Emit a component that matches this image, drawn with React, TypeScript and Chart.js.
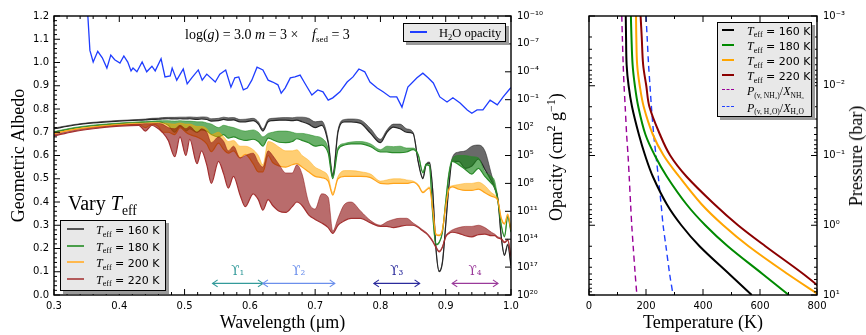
import React, { useEffect, useRef } from 'react';
import { Chart, registerables } from 'chart.js';

Chart.register(...registerables);

const SERIF = '"Liberation Serif", "DejaVu Serif", serif';
const SANS = '"DejaVu Sans", "Liberation Sans", sans-serif';
const UPS_FONT = '"DejaVu Serif", serif';

// ---------------- Left panel: geometric albedo spectra ----------------
const WAVELENGTH = [
  0.30, 0.33, 0.36, 0.40, 0.43, 0.44,
  0.45, 0.46, 0.466, 0.475, 0.485, 0.493, 0.502, 0.508, 0.519, 0.526, 0.534, 0.541, 0.552, 0.56, 0.567, 0.575, 0.585, 0.593, 0.605, 0.613, 0.62,
  0.628, 0.635, 0.645, 0.655, 0.665, 0.672, 0.68, 0.69, 0.70, 0.71, 0.72, 0.727, 0.735, 0.745, 0.755, 0.77, 0.785, 0.80,
  0.81, 0.82, 0.83, 0.84, 0.85, 0.858, 0.865, 0.87, 0.875, 0.88, 0.885, 0.89, 0.895, 0.90, 0.905, 0.91, 0.92, 0.93, 0.94, 0.95, 0.96, 0.97, 0.975, 0.98, 0.985, 0.99, 0.995, 1.0,
];

const BLACK_LOW = [
  0.715, 0.730, 0.740, 0.748, 0.752, 0.753,
  0.755, 0.756, 0.757, 0.758, 0.757, 0.758, 0.757, 0.758, 0.755, 0.757, 0.755, 0.748, 0.750, 0.755, 0.752, 0.753, 0.745, 0.745, 0.750, 0.735, 0.705,
  0.745, 0.750, 0.752, 0.752, 0.750, 0.752, 0.745, 0.735, 0.720, 0.730, 0.653, 0.510, 0.700, 0.745, 0.745, 0.738, 0.695, 0.655,
  0.700, 0.722, 0.715, 0.700, 0.695, 0.570, 0.500, 0.560, 0.567, 0.450, 0.200, 0.100, 0.140, 0.300, 0.470, 0.575, 0.575, 0.545, 0.555, 0.585, 0.540, 0.490, 0.460, 0.410, 0.250, 0.170, 0.215, 0.125,
];
const BLACK_HIGH = [
  0.718, 0.733, 0.743, 0.751, 0.755, 0.757,
  0.760, 0.761, 0.763, 0.764, 0.764, 0.765, 0.765, 0.766, 0.764, 0.766, 0.765, 0.758, 0.760, 0.765, 0.762, 0.763, 0.755, 0.756, 0.760, 0.745, 0.715,
  0.755, 0.760, 0.762, 0.763, 0.762, 0.765, 0.765, 0.760, 0.745, 0.748, 0.665, 0.520, 0.710, 0.755, 0.757, 0.752, 0.715, 0.670,
  0.710, 0.735, 0.735, 0.715, 0.700, 0.575, 0.505, 0.565, 0.572, 0.455, 0.205, 0.105, 0.145, 0.305, 0.480, 0.590, 0.615, 0.620, 0.640, 0.645, 0.620, 0.520, 0.470, 0.415, 0.255, 0.175, 0.220, 0.130,
];
const GREEN_LOW = [
  0.700, 0.717, 0.728, 0.737, 0.742, 0.743,
  0.745, 0.745, 0.742, 0.730, 0.700, 0.725, 0.705, 0.715, 0.700, 0.710, 0.705, 0.690, 0.680, 0.690, 0.675, 0.680, 0.670, 0.665, 0.670, 0.660, 0.640,
  0.675, 0.668, 0.657, 0.655, 0.660, 0.672, 0.665, 0.655, 0.640, 0.645, 0.610, 0.500, 0.625, 0.645, 0.650, 0.650, 0.638, 0.615,
  0.615, 0.612, 0.612, 0.615, 0.625, 0.600, 0.525, 0.560, 0.555, 0.350, 0.215, 0.225, 0.270, 0.400, 0.520, 0.575, 0.560, 0.540, 0.520, 0.545, 0.510, 0.480, 0.460, 0.400, 0.300, 0.250, 0.335, 0.270,
];
const GREEN_HIGH = [
  0.703, 0.720, 0.731, 0.740, 0.745, 0.746,
  0.748, 0.750, 0.750, 0.750, 0.748, 0.750, 0.748, 0.748, 0.745, 0.745, 0.740, 0.735, 0.720, 0.730, 0.725, 0.720, 0.710, 0.705, 0.710, 0.700, 0.680,
  0.695, 0.700, 0.705, 0.705, 0.700, 0.695, 0.695, 0.690, 0.683, 0.675, 0.630, 0.510, 0.635, 0.652, 0.658, 0.660, 0.650, 0.625,
  0.640, 0.638, 0.640, 0.632, 0.632, 0.605, 0.530, 0.565, 0.560, 0.355, 0.220, 0.230, 0.275, 0.405, 0.530, 0.585, 0.600, 0.600, 0.595, 0.590, 0.530, 0.510, 0.490, 0.410, 0.305, 0.255, 0.340, 0.275,
];
const ORANGE_LOW = [
  0.693, 0.711, 0.722, 0.732, 0.735, 0.720,
  0.735, 0.725, 0.700, 0.700, 0.690, 0.720, 0.700, 0.690, 0.680, 0.670, 0.650, 0.617, 0.653, 0.625, 0.610, 0.620, 0.590, 0.605, 0.565, 0.530, 0.530,
  0.600, 0.570, 0.555, 0.550, 0.560, 0.565, 0.550, 0.530, 0.510, 0.505, 0.490, 0.430, 0.500, 0.510, 0.510, 0.510, 0.505, 0.480,
  0.478, 0.480, 0.480, 0.480, 0.485, 0.470, 0.440, 0.450, 0.460, 0.370, 0.260, 0.255, 0.280, 0.380, 0.455, 0.465, 0.455, 0.450, 0.450, 0.455, 0.440, 0.425, 0.420, 0.405, 0.330, 0.305, 0.345, 0.280,
];
const ORANGE_HIGH = [
  0.697, 0.714, 0.725, 0.735, 0.740, 0.740,
  0.742, 0.742, 0.740, 0.738, 0.735, 0.740, 0.735, 0.735, 0.725, 0.725, 0.715, 0.690, 0.700, 0.680, 0.660, 0.665, 0.640, 0.640, 0.625, 0.600, 0.560,
  0.660, 0.655, 0.635, 0.620, 0.620, 0.625, 0.600, 0.580, 0.550, 0.535, 0.510, 0.440, 0.510, 0.535, 0.535, 0.530, 0.520, 0.490,
  0.495, 0.500, 0.500, 0.495, 0.490, 0.475, 0.445, 0.455, 0.465, 0.375, 0.265, 0.260, 0.285, 0.385, 0.460, 0.470, 0.475, 0.480, 0.480, 0.485, 0.470, 0.440, 0.430, 0.410, 0.335, 0.310, 0.350, 0.285,
];
const RED_LOW = [
  0.684, 0.703, 0.715, 0.726, 0.730, 0.705,
  0.730, 0.715, 0.700, 0.665, 0.595, 0.680, 0.600, 0.670, 0.565, 0.620, 0.560, 0.480, 0.575, 0.520, 0.460, 0.510, 0.430, 0.380, 0.435, 0.410, 0.365,
  0.410, 0.385, 0.360, 0.355, 0.380, 0.400, 0.385, 0.345, 0.325, 0.310, 0.290, 0.265, 0.300, 0.320, 0.330, 0.330, 0.310, 0.295,
  0.295, 0.290, 0.295, 0.300, 0.300, 0.290, 0.275, 0.265, 0.250, 0.230, 0.205, 0.185, 0.205, 0.250, 0.265, 0.270, 0.265, 0.255, 0.250, 0.260, 0.262, 0.255, 0.255, 0.245, 0.240, 0.225, 0.235, 0.165,
];
const RED_HIGH = [
  0.689, 0.707, 0.719, 0.730, 0.735, 0.737,
  0.737, 0.738, 0.735, 0.720, 0.715, 0.730, 0.715, 0.725, 0.700, 0.715, 0.700, 0.655, 0.680, 0.660, 0.620, 0.640, 0.590, 0.600, 0.610, 0.570, 0.550,
  0.620, 0.600, 0.560, 0.525, 0.525, 0.560, 0.520, 0.400, 0.370, 0.435, 0.420, 0.275, 0.330, 0.390, 0.400, 0.360, 0.320, 0.300,
  0.315, 0.325, 0.330, 0.330, 0.310, 0.295, 0.280, 0.270, 0.255, 0.235, 0.210, 0.190, 0.210, 0.255, 0.270, 0.280, 0.290, 0.295, 0.295, 0.300, 0.290, 0.270, 0.262, 0.250, 0.245, 0.230, 0.240, 0.170,
];

// H2O opacity (log10 of cm^2 g^-1), right axis of left panel
const H2O_WL = [
  0.351, 0.355, 0.360, 0.367, 0.374, 0.381, 0.387, 0.393, 0.401, 0.407,
  0.413, 0.418, 0.421, 0.427, 0.435, 0.442, 0.450, 0.455, 0.464, 0.470,
  0.478, 0.481, 0.488, 0.498, 0.504, 0.511, 0.521, 0.527, 0.534, 0.547,
  0.554, 0.563, 0.571, 0.577, 0.583, 0.590, 0.596, 0.603, 0.611, 0.620,
  0.628, 0.635, 0.643, 0.648, 0.654, 0.662, 0.669, 0.677, 0.684, 0.695,
  0.704, 0.712, 0.720, 0.727, 0.738, 0.749, 0.758, 0.767, 0.776, 0.784,
  0.795, 0.804, 0.815, 0.825, 0.833, 0.842, 0.856, 0.865, 0.873, 0.881,
  0.891, 0.902, 0.911, 0.922, 0.933, 0.940, 0.948, 0.957, 0.968, 0.979,
  0.988, 0.998, 1.0,
];
const H2O_LOG_OPACITY = [
  -11.0, -6.3, -5.05, -6.2, -5.5, -4.4, -5.8, -5.3, -4.95, -5.7,
  -5.05, -4.1, -4.4, -4.0, -5.05, -4.0, -4.6, -4.1, -5.4, -3.45,
  -3.55, -4.4, -3.1, -4.3, -2.7, -3.35, -4.2, -3.1, -3.75, -2.9,
  -3.75, -4.2, -2.35, -3.35, -3.45, -2.05, -2.25, -3.1, -4.5, -4.2,
  -3.1, -2.9, -2.6, -1.7, -2.25, -3.35, -3.45, -3.65, -2.8, -1.5,
  -2.05, -1.85, -0.95, -1.2, -1.85, -2.9, -3.45, -4.3, -4.0, -2.9,
  -2.25, -1.85, -1.3, -1.3, -0.2, -2.35, -3.35, -3.85, -3.35, -2.8,
  -1.3, -0.75, -1.2, -0.65, 0.1, 0.45, 0.1, 0.1, -0.95, -0.45,
  -1.3, -2.15, -2.3,
];

const TEFF = [160, 180, 200, 220];
const WAVELENGTH_TICKS = [0.3, 0.4, 0.5, 0.6, 0.7, 0.8, 0.9, 1.0];
const ALBEDO_TICKS = [0, 0.1, 0.2, 0.3, 0.4, 0.5, 0.6, 0.7, 0.8, 0.9, 1.0, 1.1, 1.2];
const OPACITY_EXPONENTS = [-10, -7, -4, -1, 2, 5, 8, 11, 14, 17, 20];

const UPS_LABELS = ['ϒ₁', 'ϒ₂', 'ϒ₃', 'ϒ₄'];
const UPS_START = [0.543, 0.62, 0.79, 0.91];
const UPS_END = [0.62, 0.73, 0.86, 0.98];
const UPS_ARROW_ALBEDO = 0.05;
const UPS_LABEL_ALBEDO = 0.10;
const UPS_COLORS = ['#339a9a', '#6b8fec', '#2b2b9c', '#9a3a9a'];

// ---------------- Right panel: T-P profiles ----------------
const PRESSURE_BAR = [1e-3, 2e-3, 5e-3, 1e-2, 2e-2, 5e-2, 0.1, 0.2, 0.5, 1, 2, 5, 10];
const TP_160 = [129, 130, 132, 139, 151, 175, 197, 224, 273, 324, 388, 492, 571];
const TP_180 = [147, 149, 153, 161, 173, 198, 231, 273, 342, 408, 487, 609, 701];
const TP_200 = [165, 166, 169, 178, 192, 224, 262, 316, 395, 471, 560, 697, 808];
const TP_220 = [181, 185, 190, 201, 212, 249, 285, 342, 440, 523, 619, 752, 843];
const NH3_CONDENSATION = [115, 117, 120, 123, 127, 132, 137, 141, 146, 150, 155, 162, 168];
const H2O_CONDENSATION = [200, 204, 209, 214, 219, 227, 235, 243, 253, 260, 270, 283, 295];
const TEMPERATURE_TICKS = [0, 200, 400, 600, 800];
const PRESSURE_EXPONENTS = [-3, -2, -1, 0, 1];

// ---------------- styles ----------------
const BAND_LINE = ['#262626', '#2a8a2a', '#ffa31a', '#a33030'];
const BAND_FILL = ['rgba(35,35,35,0.68)', 'rgba(34,139,34,0.68)', 'rgba(255,165,0,0.55)', 'rgba(139,10,10,0.6)'];
const LEGEND_SWATCH = ['#555555', '#4a9e4a', '#ffb84d', '#b35a5a'];
const TP_COLORS = ['#000000', '#008a00', '#ffa500', '#8b0000'];

const SUP: Record<string, string> = {
  '-': '⁻', '0': '⁰', '1': '¹', '2': '²', '3': '³', '4': '⁴', '5': '⁵', '6': '⁶', '7': '⁷', '8': '⁸', '9': '⁹',
};
const pow10Label = (e: number) => '10' + String(e).split('').map((c) => SUP[c]).join('');

const tickFont = { family: SANS, size: 10 };

function seg(ctx: CanvasRenderingContext2D, x1: number, y1: number, x2: number, y2: number) {
  ctx.beginPath();
  ctx.moveTo(x1, y1);
  ctx.lineTo(x2, y2);
  ctx.stroke();
}

const leftFramePlugin = {
  id: 'leftFrame',
  afterDatasetsDraw(chart: any) {
    const { ctx, chartArea, scales } = chart;
    const { left, right, top, bottom } = chartArea;
    ctx.save();
    ctx.strokeStyle = '#000';
    ctx.lineWidth = 1;
    for (let i = 15; i <= 50; i++) {
      const len = i % 5 === 0 ? 6 : 3;
      const p = scales.x.getPixelForValue(i / 50);
      seg(ctx, p, bottom, p, bottom - len);
      seg(ctx, p, top, p, top + len);
    }
    for (let i = 0; i <= 60; i++) {
      const len = i % 5 === 0 ? 6 : 3;
      const p = scales.y.getPixelForValue(i / 50);
      seg(ctx, left, p, left + len, p);
    }
    OPACITY_EXPONENTS.forEach((e) => {
      const p = scales.y1.getPixelForValue(Math.pow(10, e));
      seg(ctx, right, p, right - 6, p);
    });
    // upsilon arrows
    UPS_LABELS.forEach((lab, i) => {
      const x1 = scales.x.getPixelForValue(UPS_START[i]);
      const x2 = scales.x.getPixelForValue(UPS_END[i]);
      const y = scales.y.getPixelForValue(UPS_ARROW_ALBEDO);
      const yl = scales.y.getPixelForValue(UPS_LABEL_ALBEDO);
      ctx.strokeStyle = UPS_COLORS[i];
      ctx.fillStyle = UPS_COLORS[i];
      ctx.lineWidth = 1.2;
      seg(ctx, x1, y, x2, y);
      ctx.beginPath();
      ctx.moveTo(x1 + 5, y - 3.5);
      ctx.lineTo(x1, y);
      ctx.lineTo(x1 + 5, y + 3.5);
      ctx.moveTo(x2 - 5, y - 3.5);
      ctx.lineTo(x2, y);
      ctx.lineTo(x2 - 5, y + 3.5);
      ctx.stroke();
      ctx.font = `12px ${UPS_FONT}`;
      ctx.textAlign = 'center';
      ctx.textBaseline = 'middle';
      ctx.fillText(lab, (x1 + x2) / 2, yl);
    });
    ctx.strokeStyle = '#000';
    ctx.lineWidth = 1.4;
    ctx.strokeRect(left, top, right - left, bottom - top);
    ctx.restore();
  },
};

const rightFramePlugin = {
  id: 'rightFrame',
  afterDatasetsDraw(chart: any) {
    const { ctx, chartArea, scales } = chart;
    const { left, right, top, bottom } = chartArea;
    ctx.save();
    ctx.strokeStyle = '#000';
    ctx.lineWidth = 1;
    for (let i = 0; i <= 8; i++) {
      const len = i % 2 === 0 ? 6 : 3;
      const p = scales.x.getPixelForValue(i * 100);
      seg(ctx, p, bottom, p, bottom - len);
      seg(ctx, p, top, p, top + len);
    }
    for (let e = -3; e <= 1; e++) {
      for (let m = 1; m <= 9; m++) {
        const v = m * Math.pow(10, e);
        if (v > 10.0001) continue;
        const len = m === 1 ? 6 : 3;
        const p = scales.y.getPixelForValue(v);
        seg(ctx, left, p, left + len, p);
        seg(ctx, right, p, right - len, p);
      }
    }
    ctx.lineWidth = 1.4;
    ctx.strokeRect(left, top, right - left, bottom - top);
    ctx.restore();
  },
};

function leftConfig(): any {
  const lows = [BLACK_LOW, GREEN_LOW, ORANGE_LOW, RED_LOW];
  const highs = [BLACK_HIGH, GREEN_HIGH, ORANGE_HIGH, RED_HIGH];
  const datasets: any[] = [
    {
      label: 'H2O opacity',
      data: H2O_WL.map((w, i) => ({ x: w, y: Math.pow(10, H2O_LOG_OPACITY[i]) })),
      yAxisID: 'y1',
      borderColor: '#1f3dff',
      borderWidth: 1.3,
      pointRadius: 0,
      tension: 0,
      fill: false,
      order: 1,
    },
  ];
  TEFF.forEach((t, k) => {
    datasets.push({
      label: `Teff = ${t} K`,
      data: WAVELENGTH.map((w, i) => ({ x: w, y: lows[k][i] })),
      yAxisID: 'y',
      borderColor: BAND_LINE[k],
      borderWidth: 1.2,
      pointRadius: 0,
      cubicInterpolationMode: 'monotone',
      fill: false,
      order: 9 - 2 * k,
    });
    datasets.push({
      label: `Teff = ${t} K (upper)`,
      data: WAVELENGTH.map((w, i) => ({ x: w, y: highs[k][i] })),
      yAxisID: 'y',
      borderColor: BAND_FILL[k],
      backgroundColor: BAND_FILL[k],
      borderWidth: 0.8,
      pointRadius: 0,
      cubicInterpolationMode: 'monotone',
      fill: '-1',
      order: 10 - 2 * k,
    });
  });
  return {
    type: 'line',
    data: { datasets },
    plugins: [leftFramePlugin],
    options: {
      animation: false,
      responsive: false,
      maintainAspectRatio: false,
      devicePixelRatio: 1,
      events: [],
      layout: { padding: { top: 16, left: 0, right: 0, bottom: 0 } },
      plugins: { legend: { display: false }, tooltip: { enabled: false } },
      scales: {
        x: {
          type: 'linear',
          min: 0.3,
          max: 1.0,
          afterBuildTicks: (s: any) => { s.ticks = WAVELENGTH_TICKS.map((v) => ({ value: v })); },
          afterFit: (s: any) => { s.height = 40; },
          ticks: { callback: (v: any) => Number(v).toFixed(1), font: tickFont, color: '#000', padding: 5, maxRotation: 0, autoSkip: false },
          grid: { display: false, drawTicks: false },
          border: { display: false },
          title: { display: true, text: 'Wavelength (μm)', font: { family: SERIF, size: 18 }, color: '#000', padding: { top: 0, bottom: 1 } },
        },
        y: {
          type: 'linear',
          position: 'left',
          min: 0,
          max: 1.2,
          afterBuildTicks: (s: any) => { s.ticks = ALBEDO_TICKS.map((v) => ({ value: v })); },
          afterFit: (s: any) => { s.width = 54; },
          ticks: { callback: (v: any) => Number(v).toFixed(1), font: tickFont, color: '#000', padding: 5, autoSkip: false },
          grid: { display: false, drawTicks: false },
          border: { display: false },
          title: { display: true, text: 'Geometric Albedo', font: { family: SERIF, size: 18 }, color: '#000', padding: { top: 8, bottom: 0 } },
        },
        y1: {
          type: 'logarithmic',
          position: 'right',
          reverse: true,
          min: 1e-10,
          max: 1e20,
          afterBuildTicks: (s: any) => { s.ticks = OPACITY_EXPONENTS.map((e) => ({ value: Math.pow(10, e) })); },
          afterFit: (s: any) => { s.width = 89; },
          ticks: { callback: (v: any) => pow10Label(Math.round(Math.log10(v))), font: tickFont, color: '#000', padding: 6, autoSkip: false },
          grid: { display: false, drawTicks: false },
          border: { display: false },
        },
      },
    },
  };
}

function rightConfig(): any {
  const profiles = [TP_160, TP_180, TP_200, TP_220];
  const datasets: any[] = profiles.map((temps, k) => ({
    label: `Teff = ${TEFF[k]} K`,
    data: PRESSURE_BAR.map((p, i) => ({ x: temps[i], y: p })),
    borderColor: TP_COLORS[k],
    borderWidth: 2,
    pointRadius: 0,
    tension: 0.35,
    fill: false,
  }));
  datasets.push({
    label: 'P(v,NH3)/X_NH3',
    data: PRESSURE_BAR.map((p, i) => ({ x: NH3_CONDENSATION[i], y: p })),
    borderColor: '#990099',
    borderWidth: 1.4,
    borderDash: [6, 4],
    pointRadius: 0,
    tension: 0.3,
    fill: false,
  });
  datasets.push({
    label: 'P(v,H2O)/X_H2O',
    data: PRESSURE_BAR.map((p, i) => ({ x: H2O_CONDENSATION[i], y: p })),
    borderColor: '#2040ff',
    borderWidth: 1.4,
    borderDash: [6, 4],
    pointRadius: 0,
    tension: 0.3,
    fill: false,
  });
  return {
    type: 'line',
    data: { datasets },
    plugins: [rightFramePlugin],
    options: {
      animation: false,
      responsive: false,
      maintainAspectRatio: false,
      devicePixelRatio: 1,
      events: [],
      layout: { padding: { top: 16, left: 9, right: 0, bottom: 0 } },
      plugins: { legend: { display: false }, tooltip: { enabled: false } },
      scales: {
        x: {
          type: 'linear',
          min: 0,
          max: 800,
          afterBuildTicks: (s: any) => { s.ticks = TEMPERATURE_TICKS.map((v) => ({ value: v })); },
          afterFit: (s: any) => { s.height = 40; },
          ticks: { font: tickFont, color: '#000', padding: 5, maxRotation: 0, autoSkip: false },
          grid: { display: false, drawTicks: false },
          border: { display: false },
          title: { display: true, text: 'Temperature (K)', font: { family: SERIF, size: 18 }, color: '#000', padding: { top: 0, bottom: 1 } },
        },
        y: {
          type: 'logarithmic',
          position: 'right',
          reverse: true,
          min: 1e-3,
          max: 10,
          afterBuildTicks: (s: any) => { s.ticks = PRESSURE_EXPONENTS.map((e) => ({ value: Math.pow(10, e) })); },
          afterFit: (s: any) => { s.width = 49; },
          ticks: { callback: (v: any) => pow10Label(Math.round(Math.log10(v))), font: tickFont, color: '#000', padding: 6, autoSkip: false },
          grid: { display: false, drawTicks: false },
          border: { display: false },
        },
      },
    },
  };
}

// ---------------- text helpers ----------------
function Sub({ children, size }: { children: React.ReactNode; size: number }) {
  return (
    <span style={{ fontSize: size, position: 'relative', top: size * 0.35, fontStyle: 'normal' }}>{children}</span>
  );
}
function Sup({ children, size }: { children: React.ReactNode; size: number }) {
  return (
    <span style={{ fontSize: size, position: 'relative', top: -size * 0.6, fontStyle: 'normal' }}>{children}</span>
  );
}
function TEff({ size }: { size: number }) {
  return (
    <span style={{ fontFamily: SERIF, fontSize: size }}>
      <i>T</i>
      <Sub size={size * 0.68}>eff</Sub>
    </span>
  );
}

const legendBox: React.CSSProperties = {
  position: 'absolute',
  boxSizing: 'border-box',
  border: '1.5px solid #000',
  background: '#e8e8e8',
  boxShadow: '3px 3px 0 #9a9a9a',
};

function Row({ y, x0, x1, xt, color, dashed, children }: any) {
  return (
    <>
      <div
        style={{
          position: 'absolute',
          left: x0,
          width: x1 - x0,
          top: y - 1,
          height: 0,
          borderTop: dashed ? `1.6px dashed ${color}` : `2px solid ${color}`,
        }}
      />
      <div style={{ position: 'absolute', left: xt, top: y - 9, height: 18, lineHeight: '18px', whiteSpace: 'nowrap' }}>
        {children}
      </div>
    </>
  );
}

export default function App() {
  const leftRef = useRef<HTMLCanvasElement>(null);
  const rightRef = useRef<HTMLCanvasElement>(null);

  useEffect(() => {
    const c1 = new Chart(leftRef.current as HTMLCanvasElement, leftConfig());
    const c2 = new Chart(rightRef.current as HTMLCanvasElement, rightConfig());
    return () => {
      c1.destroy();
      c2.destroy();
    };
  }, []);

  const sansLbl: React.CSSProperties = { fontFamily: SANS, fontSize: 11 };

  return (
    <div style={{ position: 'absolute', left: 0, top: 0, width: 866, height: 335, background: '#fff', overflow: 'hidden', color: '#000' }}>
      <canvas ref={leftRef} width={600} height={335} style={{ position: 'absolute', left: 0, top: 0, width: 600, height: 335 }} />
      <canvas ref={rightRef} width={286} height={335} style={{ position: 'absolute', left: 580, top: 0, width: 286, height: 335 }} />

      {/* parameter annotation */}
      <div style={{ position: 'absolute', left: 185, top: 26, lineHeight: '18px', fontFamily: SERIF, fontSize: 14, whiteSpace: 'nowrap' }}>
        log(<i>g</i>) = 3.0
      </div>
      <div style={{ position: 'absolute', left: 255, top: 26, lineHeight: '18px', fontFamily: SERIF, fontSize: 14, whiteSpace: 'nowrap' }}>
        <i>m</i> = 3 ×
      </div>
      <div style={{ position: 'absolute', left: 312, top: 26, lineHeight: '18px', fontFamily: SERIF, fontSize: 14, whiteSpace: 'nowrap' }}>
        <i>f</i>
        <Sub size={9}>sed</Sub> = 3
      </div>

      {/* H2O legend */}
      <div style={{ ...legendBox, left: 403, top: 23, width: 103, height: 19 }}>
        <Row y={8} x0={6} x1={23} xt={35} color="#1f3dff">
          <span style={{ fontFamily: SERIF, fontSize: 12.5 }}>
            H<Sub size={8.5}>2</Sub>O opacity
          </span>
        </Row>
      </div>

      {/* Vary Teff */}
      <div style={{ position: 'absolute', left: 68, top: 190, lineHeight: '26px', whiteSpace: 'nowrap' }}>
        <span style={{ fontFamily: SERIF, fontSize: 20 }}>Vary </span>
        <TEff size={20} />
      </div>

      {/* albedo legend */}
      <div style={{ ...legendBox, left: 60, top: 220, width: 106, height: 71 }}>
        {TEFF.map((t, k) => (
          <Row key={t} y={8 + k * 16.5} x0={6} x1={23} xt={35} color={LEGEND_SWATCH[k]}>
            <TEff size={12} />
            <span style={sansLbl}> = {t} K</span>
          </Row>
        ))}
      </div>

      {/* opacity axis title */}
      <div
        style={{
          position: 'absolute', left: 557, top: 157, transform: 'translate(-50%, -50%) rotate(-90deg)',
          fontFamily: SERIF, fontSize: 18, whiteSpace: 'nowrap', lineHeight: '22px',
        }}
      >
        Opacity (cm<Sup size={12}>2</Sup> g<Sup size={12}>−1</Sup>)
      </div>

      {/* pressure axis title */}
      <div
        style={{
          position: 'absolute', left: 856, top: 156, transform: 'translate(-50%, -50%) rotate(-90deg)',
          fontFamily: SERIF, fontSize: 18, whiteSpace: 'nowrap', lineHeight: '22px',
        }}
      >
        Pressure (bar)
      </div>

      {/* T-P legend */}
      <div style={{ ...legendBox, left: 717, top: 22, width: 95, height: 95 }}>
        {TEFF.map((t, k) => (
          <Row key={t} y={6.5 + k * 15.2} x0={4} x1={16} xt={29} color={TP_COLORS[k]}>
            <TEff size={12} />
            <span style={sansLbl}> = {t} K</span>
          </Row>
        ))}
        <Row y={67} x0={4} x1={16} xt={29} color="#990099" dashed>
          <span style={{ fontFamily: SERIF, fontSize: 12 }}>
            <i>P</i>
            <Sub size={7.5}>(v, NH₃)</Sub>/<i>X</i>
            <Sub size={7.5}>NH₃</Sub>
          </span>
        </Row>
        <Row y={83.5} x0={4} x1={16} xt={29} color="#2040ff" dashed>
          <span style={{ fontFamily: SERIF, fontSize: 12 }}>
            <i>P</i>
            <Sub size={7.5}>(v, H₂O)</Sub>/<i>X</i>
            <Sub size={7.5}>H₂O</Sub>
          </span>
        </Row>
      </div>
    </div>
  );
}
